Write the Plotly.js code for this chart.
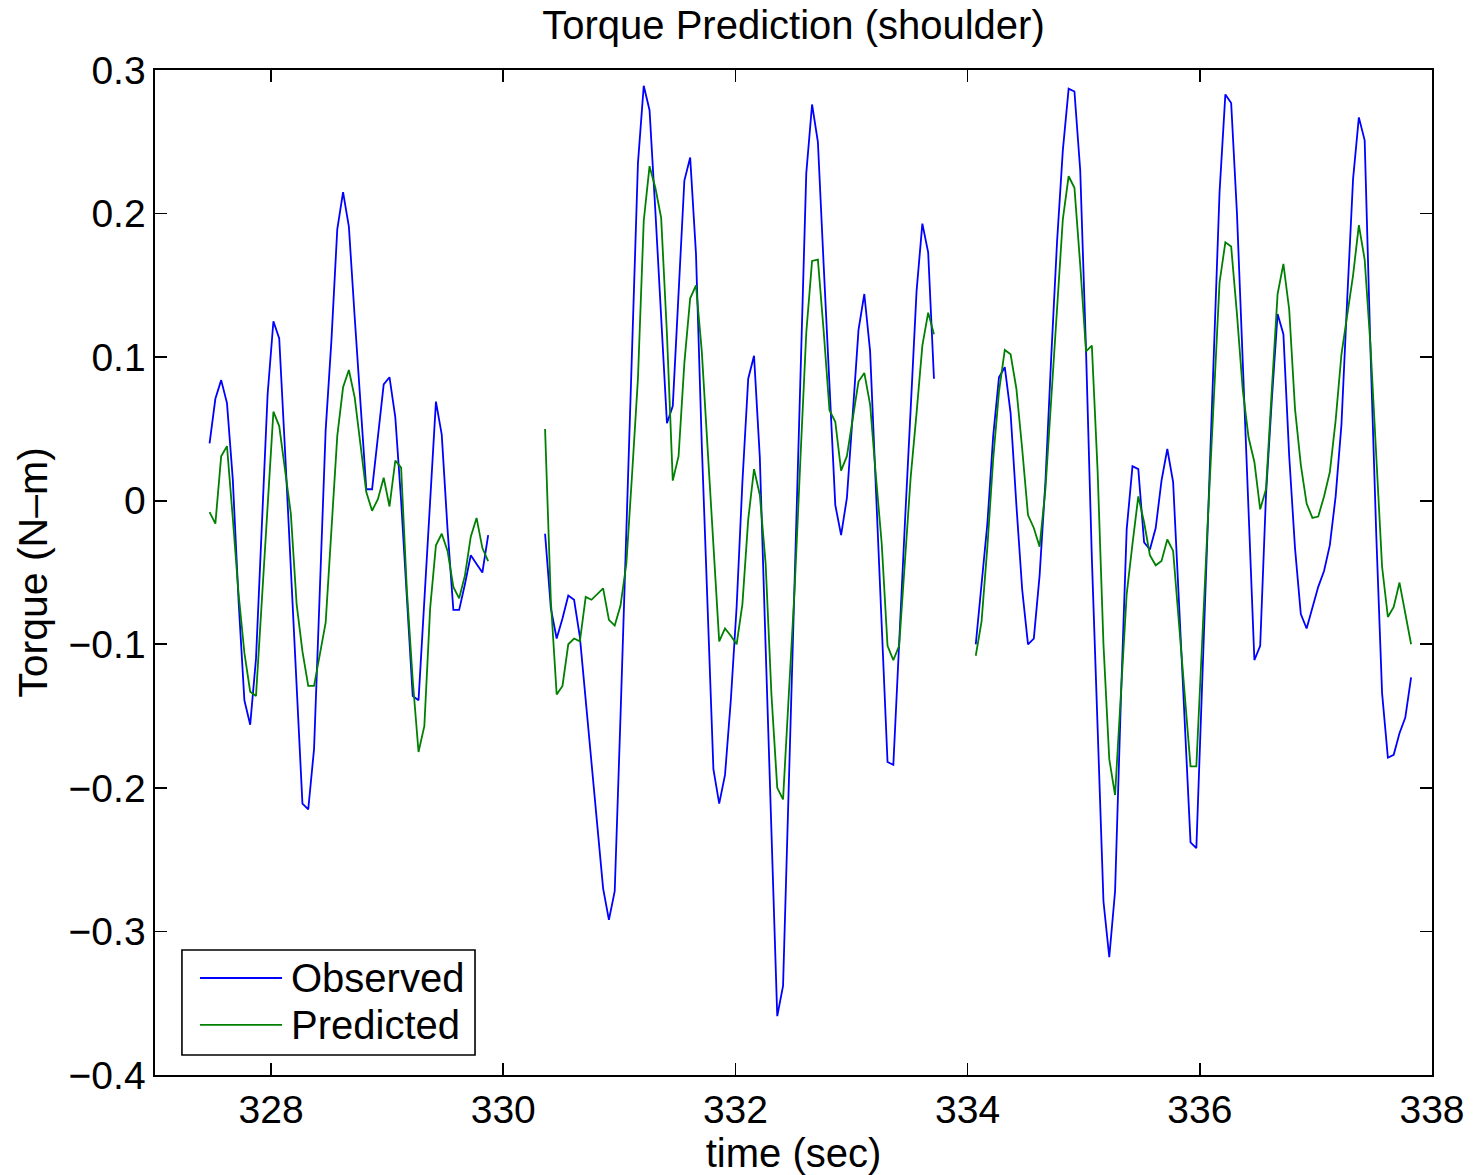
<!DOCTYPE html>
<html><head><meta charset="utf-8">
<script src="https://cdn.plot.ly/plotly-3.0.1.min.js"></script>
<style>html,body{margin:0;padding:0;background:#fff}#chart{width:1473px;height:1175px}</style>
</head><body><div id="chart"></div><script>
// Sampling: each recorded segment starts at these times, sampled every 0.05 s
const segmentStart = [327.47, 330.36, 334.07];
const sampleStep = 0.05;

const observedSeg1 = [0.040,0.071,0.084,0.068,0.015,-0.070,-0.139,-0.156,-0.110,-0.020,0.074,0.125,0.113,0.035,-0.045,-0.130,-0.211,-0.215,-0.173,-0.062,0.049,0.112,0.189,0.215,0.191,0.128,0.068,0.008,0.008,0.045,0.081,0.086,0.058,0.000,-0.068,-0.136,-0.139,-0.069,-0.002,0.069,0.046,-0.020,-0.076,-0.076,-0.058,-0.038,-0.044,-0.050,-0.024];
const predictedSeg1 = [-0.008,-0.016,0.031,0.038,-0.012,-0.065,-0.106,-0.133,-0.136,-0.071,-0.003,0.062,0.052,0.022,-0.009,-0.072,-0.105,-0.129,-0.129,-0.107,-0.085,-0.020,0.045,0.079,0.091,0.072,0.040,0.006,-0.007,0.001,0.016,-0.004,0.028,0.023,-0.063,-0.125,-0.175,-0.157,-0.075,-0.031,-0.023,-0.035,-0.060,-0.068,-0.052,-0.025,-0.012,-0.033,-0.042];

const observedSeg2 = [-0.023,-0.075,-0.096,-0.082,-0.066,-0.069,-0.095,-0.139,-0.183,-0.227,-0.270,-0.292,-0.272,-0.150,-0.020,0.108,0.235,0.289,0.272,0.202,0.131,0.054,0.066,0.146,0.223,0.239,0.172,0.039,-0.079,-0.187,-0.211,-0.191,-0.139,-0.074,0.013,0.085,0.101,0.030,-0.102,-0.230,-0.359,-0.338,-0.196,-0.055,0.086,0.228,0.276,0.250,0.164,0.077,-0.003,-0.024,0.002,0.060,0.119,0.144,0.104,0.008,-0.085,-0.182,-0.184,-0.096,-0.015,0.065,0.146,0.193,0.173,0.085];
const predictedSeg2 = [0.050,-0.070,-0.135,-0.129,-0.100,-0.096,-0.098,-0.067,-0.069,-0.065,-0.061,-0.083,-0.087,-0.073,-0.044,0.019,0.085,0.195,0.233,0.218,0.197,0.116,0.014,0.031,0.096,0.141,0.150,0.104,0.035,-0.035,-0.098,-0.089,-0.094,-0.100,-0.072,-0.013,0.022,0.004,-0.044,-0.135,-0.200,-0.208,-0.135,-0.061,0.030,0.117,0.167,0.168,0.118,0.063,0.055,0.021,0.031,0.058,0.083,0.089,0.067,0.017,-0.030,-0.101,-0.111,-0.101,-0.040,0.017,0.061,0.108,0.131,0.116];

const observedSeg3 = [-0.100,-0.056,-0.016,0.045,0.086,0.093,0.061,-0.003,-0.062,-0.100,-0.096,-0.052,0.013,0.100,0.180,0.244,0.287,0.285,0.230,0.104,-0.040,-0.159,-0.279,-0.318,-0.272,-0.139,-0.020,0.024,0.022,-0.029,-0.034,-0.019,0.014,0.036,0.013,-0.070,-0.155,-0.238,-0.242,-0.128,-0.014,0.100,0.215,0.283,0.277,0.200,0.100,-0.005,-0.111,-0.101,0.004,0.070,0.130,0.116,0.031,-0.033,-0.079,-0.089,-0.074,-0.060,-0.049,-0.031,0.003,0.053,0.141,0.224,0.267,0.251,0.105,-0.024,-0.134,-0.179,-0.177,-0.162,-0.151,-0.123];
const predictedSeg3 = [-0.108,-0.084,-0.032,0.029,0.076,0.105,0.102,0.078,0.036,-0.010,-0.019,-0.032,0.008,0.072,0.132,0.196,0.226,0.218,0.164,0.104,0.108,0.020,-0.100,-0.180,-0.205,-0.139,-0.065,-0.030,0.003,-0.015,-0.038,-0.045,-0.042,-0.027,-0.035,-0.085,-0.135,-0.185,-0.185,-0.094,-0.012,0.070,0.152,0.180,0.177,0.130,0.077,0.044,0.027,-0.006,0.008,0.077,0.144,0.165,0.133,0.064,0.025,-0.002,-0.012,-0.011,0.003,0.020,0.056,0.102,0.130,0.157,0.192,0.168,0.108,0.031,-0.046,-0.081,-0.074,-0.057,-0.079,-0.100];

const seriesNames = ['Observed', 'Predicted'];
const xTicks = [328, 330, 332, 334, 336, 338];
const yTicks = [-0.4, -0.3, -0.2, -0.1, 0, 0.1, 0.2, 0.3];

function joinSegments(segs) {
  const xs = [], ys = [];
  segs.forEach((vals, s) => {
    if (s > 0) { xs.push(null); ys.push(null); }
    vals.forEach((v, k) => {
      xs.push(+(segmentStart[s] + sampleStep * k).toFixed(3));
      ys.push(v);
    });
  });
  return {xs, ys};
}

const obs = joinSegments([observedSeg1, observedSeg2, observedSeg3]);
const pred = joinSegments([predictedSeg1, predictedSeg2, predictedSeg3]);

const BLUE = '#0000ff', GREEN = '#008000';
const FONT = 'Liberation Sans, Arial, Helvetica, sans-serif';

const traces = [
  {x: obs.xs, y: obs.ys, type: 'scatter', mode: 'lines', name: seriesNames[0],
   line: {color: BLUE, width: 1.8}, connectgaps: false, showlegend: false},
  {x: pred.xs, y: pred.ys, type: 'scatter', mode: 'lines', name: seriesNames[1],
   line: {color: GREEN, width: 1.8}, connectgaps: false, showlegend: false}
];

// Legend drawn in the MATLAB style (long line samples, boxed)
const L = {x0: 0.0211, x1: 0.2506, y0: 0.0199, y1: 0.1244, lx0: 0.0352, lx1: 0.0995, tx: 0.1049, r1: 0.0965, r2: 0.0498};
const shapes = [
  {type: 'rect', xref: 'paper', yref: 'paper', x0: L.x0, x1: L.x1, y0: L.y0, y1: L.y1,
   line: {color: '#000', width: 1.6}, fillcolor: '#fff', layer: 'above'},
  {type: 'line', xref: 'paper', yref: 'paper', x0: L.lx0, x1: L.lx1, y0: L.r1, y1: L.r1,
   line: {color: BLUE, width: 1.8}, layer: 'above'},
  {type: 'line', xref: 'paper', yref: 'paper', x0: L.lx0, x1: L.lx1, y0: L.r2, y1: L.r2,
   line: {color: GREEN, width: 1.8}, layer: 'above'}
];
const annotations = [
  {xref: 'paper', yref: 'paper', x: L.tx, y: L.r1, xanchor: 'left', yanchor: 'middle',
   text: seriesNames[0], showarrow: false, font: {family: FONT, size: 40, color: '#000'}},
  {xref: 'paper', yref: 'paper', x: L.tx, y: L.r2, xanchor: 'left', yanchor: 'middle',
   text: seriesNames[1], showarrow: false, font: {family: FONT, size: 40, color: '#000'}}
];

const axisCommon = {
  showgrid: false, zeroline: false, showline: true, linecolor: '#000', linewidth: 1.6,
  mirror: 'ticks', ticks: 'inside', ticklen: 12, tickwidth: 1.6, tickcolor: '#000',
  tickfont: {family: FONT, size: 39, color: '#000'}, automargin: false
};

const layout = {
  width: 1473, height: 1175,
  paper_bgcolor: '#fff', plot_bgcolor: '#fff',
  margin: {l: 155, r: 41, t: 70, b: 100},
  showlegend: false,
  title: {text: 'Torque Prediction (shoulder)', font: {family: FONT, size: 40, color: '#000'},
          x: 0.5, xref: 'paper', y: 0.979, yref: 'container', yanchor: 'middle'},
  xaxis: Object.assign({}, axisCommon, {
    range: [327, 338], tickvals: xTicks, ticktext: xTicks.map(String),
    title: {text: 'time (sec)', font: {family: FONT, size: 40, color: '#000'}, standoff: 0}
  }),
  yaxis: Object.assign({}, axisCommon, {
    range: [-0.4, 0.3], tickvals: yTicks,
    title: {text: 'Torque (N\u2013m)', font: {family: FONT, size: 41, color: '#000'}, standoff: 8}
  }),
  shapes: shapes, annotations: annotations
};

Plotly.newPlot('chart', traces, layout, {staticPlot: true, displayModeBar: false});
</script></body></html>
